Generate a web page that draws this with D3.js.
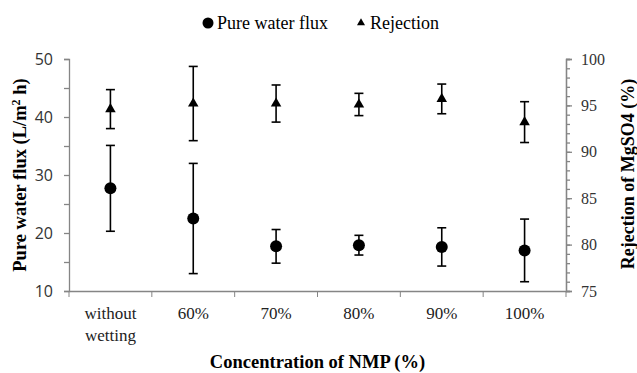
<!DOCTYPE html>
<html>
<head>
<meta charset="utf-8">
<script src="https://cdn.jsdelivr.net/npm/d3@7"></script>
<style>
  body { margin: 0; background: #fff; }
  svg { display: block; }
</style>
</head>
<body>
<script>
var categories = ['without wetting', '60%', '70%', '80%', '90%', '100%'];
var fluxValues = [27.7, 22.5, 17.7, 17.9, 17.6, 17.0];
var fluxErrors = [7.4, 9.5, 2.9, 1.7, 3.3, 5.4];
var rejectionValues = [94.6, 95.2, 95.2, 95.1, 95.7, 93.2];
var rejectionErrors = [2.1, 4.0, 2.0, 1.2, 1.6, 2.2];
var fluxTicks = [10, 15, 20, 25, 30, 35, 40, 45, 50];
var rejectionTicks = [75, 80, 85, 90, 95, 100];

var width = 637;
var height = 373;

var margin = {
    left: 69,
    right: 71,
    top: 59,
    bottom: 82
}

var axisColor = '#858585';
var serif = '"Liberation Serif", "Times New Roman", serif';

var svg = d3.select('body').append('svg')
    .attr('width', width)
    .attr('height', height);

var x = d3.scaleBand()
    .domain(categories)
    .range([margin.left, width - margin.right]);

var yLeft = d3.scaleLinear()
    .domain([10, 50])
    .range([height - margin.bottom, margin.top]);

var yRight = d3.scaleLinear()
    .domain([75, 100])
    .range([height - margin.bottom, margin.top]);

// left axis: ticks every 5, labels every 10
var leftAxis = svg.append('g')
    .attr('transform', 'translate(' + margin.left + ',0)')
    .call(d3.axisLeft(yLeft)
        .tickValues(fluxTicks)
        .tickSize(5)
        .tickPadding(11)
        .tickFormat(function(d) { return d % 10 === 0 ? d : ''; }));
leftAxis.selectAll('text')
    .style('font-family', '"Open Sans", "Liberation Sans", sans-serif')
    .style('font-size', '16px')
    .attr('fill', '#333');

// right axis: minor ticks every 1, major every 5
svg.append('g')
    .attr('transform', 'translate(' + (width - margin.right) + ',0)')
    .call(d3.axisRight(yRight)
        .tickValues(d3.range(75, 101, 1))
        .tickSize(4)
        .tickFormat(''));
var rightAxis = svg.append('g')
    .attr('transform', 'translate(' + (width - margin.right) + ',0)')
    .call(d3.axisRight(yRight)
        .tickValues(rejectionTicks)
        .tickSize(6)
        .tickPadding(9));
rightAxis.selectAll('text')
    .style('font-family', serif)
    .style('font-size', '16px')
    .attr('fill', '#333');

// bottom axis: labels centred, ticks on band edges
var bottomAxis = svg.append('g')
    .attr('transform', 'translate(0,' + (height - margin.bottom) + ')')
    .call(d3.axisBottom(x).tickSize(0).tickPadding(16));
bottomAxis.selectAll('text')
    .style('font-family', serif)
    .style('font-size', '17px')
    .attr('fill', '#222')
    .each(function(d) {
        var words = d.split(' ');
        if (words.length > 1) {
            var t = d3.select(this).text('');
            words.forEach(function(w, i) {
                t.append('tspan')
                    .attr('x', 0)
                    .attr('dy', i === 0 ? '0.71em' : '1.3em')
                    .text(w);
            });
            t.attr('dy', null);
        }
    });
var edges = categories.map(function(c) { return x(c); }).concat([x.range()[1]]);
bottomAxis.selectAll('.edge')
    .data(edges)
    .enter().append('line')
    .attr('class', 'edge')
    .attr('x1', function(d) { return d; })
    .attr('x2', function(d) { return d; })
    .attr('y1', 0)
    .attr('y2', 6)
    .attr('stroke', axisColor);

svg.selectAll('.domain').attr('stroke', axisColor).attr('stroke-width', 1.3);
svg.selectAll('.tick line').attr('stroke', axisColor).attr('stroke-width', 1.3);

// axis titles
svg.append('text')
    .attr('x', (margin.left + width - margin.right) / 2)
    .attr('y', 368)
    .attr('text-anchor', 'middle')
    .style('font-family', serif)
    .style('font-weight', 'bold')
    .style('font-size', '18.5px')
    .text('Concentration of NMP (%)');

var leftTitle = svg.append('text')
    .attr('transform', 'translate(26,' + 175 + ') rotate(-90)')
    .attr('text-anchor', 'middle')
    .style('font-family', serif)
    .style('font-weight', 'bold')
    .style('font-size', '18.5px');
leftTitle.append('tspan').text('Pure water flux (L/m');
leftTitle.append('tspan').attr('dy', -6).style('font-size', '12px').text('2');
leftTitle.append('tspan').attr('dy', 6).text(' h)');

svg.append('text')
    .attr('transform', 'translate(634,' + 174 + ') rotate(-90)')
    .attr('text-anchor', 'middle')
    .style('font-family', serif)
    .style('font-weight', 'bold')
    .style('font-size', '18px')
    .text('Rejection of MgSO4 (%)');

var cx = function(i) { return x(categories[i]) + x.bandwidth() / 2; };
var capHalf = 4.5;

function errorBars(values, errors, scale) {
    var g = svg.append('g').attr('stroke', '#000').attr('stroke-width', 1.6);
    values.forEach(function(v, i) {
        var top = scale(v + errors[i]);
        var bottom = scale(v - errors[i]);
        g.append('line').attr('x1', cx(i)).attr('x2', cx(i)).attr('y1', top).attr('y2', bottom);
        g.append('line').attr('x1', cx(i) - capHalf).attr('x2', cx(i) + capHalf).attr('y1', top).attr('y2', top);
        g.append('line').attr('x1', cx(i) - capHalf).attr('x2', cx(i) + capHalf).attr('y1', bottom).attr('y2', bottom);
    });
}

errorBars(fluxValues, fluxErrors, yLeft);
errorBars(rejectionValues, rejectionErrors, yRight);

svg.selectAll('.flux')
    .data(fluxValues)
    .enter().append('circle')
    .attr('class', 'flux')
    .attr('cx', function(d, i) { return cx(i); })
    .attr('cy', function(d) { return yLeft(d); })
    .attr('r', 6)
    .attr('fill', '#000');

var triangle = d3.symbol().type(d3.symbolTriangle).size(48);
svg.selectAll('.rejection')
    .data(rejectionValues)
    .enter().append('path')
    .attr('class', 'rejection')
    .attr('d', triangle)
    .attr('transform', function(d, i) { return 'translate(' + cx(i) + ',' + yRight(d) + ')'; })
    .attr('fill', '#000');

// legend
var legend = svg.append('g').style('font-family', serif).style('font-size', '18px');
legend.append('circle').attr('cx', 208).attr('cy', 23).attr('r', 5.5).attr('fill', '#000');
legend.append('text').attr('x', 217).attr('y', 29).text('Pure water flux');
legend.append('path').attr('d', d3.symbol().type(d3.symbolTriangle).size(28))
    .attr('transform', 'translate(361,23)').attr('fill', '#000');
legend.append('text').attr('x', 370).attr('y', 29).text('Rejection');
</script>
</body>
</html>
